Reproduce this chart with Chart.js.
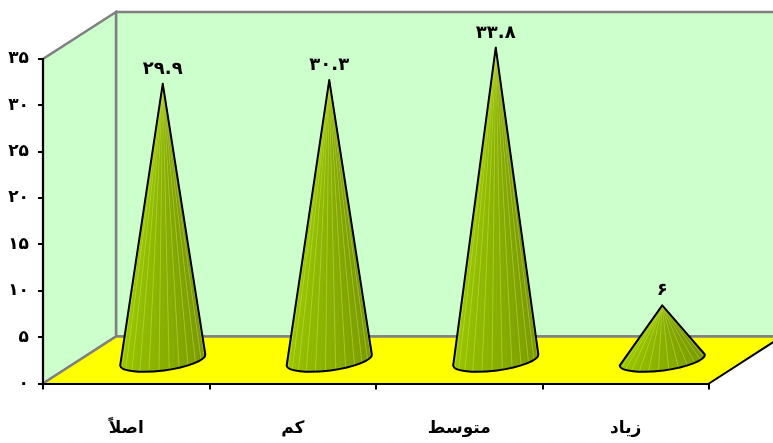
<!DOCTYPE html>
<html lang="fa">
<head>
<meta charset="utf-8">
<script src="https://cdn.jsdelivr.net/npm/chart.js@4/dist/chart.umd.min.js"></script>
<style>html,body{margin:0;padding:0;background:#fff}canvas{display:block}</style>
</head>
<body>
<canvas id="c" width="773" height="443"></canvas>
<script>
const categories = ['اصلاً', 'کم', 'متوسط', 'زیاد'];
const seriesValues = [29.9, 30.3, 33.8, 6];
const yTicks = [0, 5, 10, 15, 20, 25, 30, 35];

const FONT = '"DejaVu Sans"';
const DX = 73, DY = -47;
const persian = v => String(v).replace(/[0-9]/g, d => '۰۱۲۳۴۵۶۷۸۹'[d]);

function poly(ctx, pts, fill, stroke, lw) {
  ctx.beginPath();
  pts.forEach((p, i) => i ? ctx.lineTo(p[0], p[1]) : ctx.moveTo(p[0], p[1]));
  ctx.closePath();
  if (fill) { ctx.fillStyle = fill; ctx.fill(); }
  if (stroke) { ctx.strokeStyle = stroke; ctx.lineWidth = lw; ctx.stroke(); }
}

const walls = {
  id: 'walls',
  beforeDraw(chart) {
    const { ctx, chartArea: a, scales: { y } } = chart;
    const b = y.getPixelForValue(0), t = y.getPixelForValue(35);
    ctx.save();
    poly(ctx, [[a.left + DX, b + DY], [a.right + DX, b + DY], [a.right + DX, t + DY], [a.left + DX, t + DY]], '#ccffcc', '#808080', 2.5);
    poly(ctx, [[a.left, b], [a.left + DX, b + DY], [a.left + DX, t + DY], [a.left, t]], '#ccffcc', '#808080', 2.5);
    poly(ctx, [[a.left, b], [a.right, b], [a.right + DX, b + DY], [a.left + DX, b + DY]], '#ffff00');
    ctx.strokeStyle = '#808080'; ctx.lineWidth = 2.5;
    ctx.beginPath(); ctx.moveTo(a.left, b); ctx.lineTo(a.left + DX, b + DY); ctx.lineTo(a.right + DX, b + DY); ctx.stroke();
    ctx.strokeStyle = '#000'; ctx.lineWidth = 2;
    ctx.beginPath(); ctx.moveTo(a.right, b); ctx.lineTo(a.right + DX, b + DY); ctx.stroke();
    ctx.restore();
  }
};

function mix(t) {
  const l = [156, 204, 0], r = [116, 146, 0];
  return 'rgb(' + l.map((c, i) => Math.round(c + (r[i] - c) * t)).join(',') + ')';
}

const cones = {
  id: 'cones',
  afterDatasetsDraw(chart) {
    const { ctx } = chart;
    const meta = chart.getDatasetMeta(0);
    ctx.save();
    meta.data.forEach((el, i) => {
      const cx = el.x + DX / 2, baseY = el.base + DY / 2 + 1;
      const tipX = cx, tipY = el.y + DY / 2 + 1;
      const rx = el.width / 2, ry = 10.5, rot = -7.5 * Math.PI / 180;
      const pt = a => [
        cx + rx * Math.cos(a) * Math.cos(rot) - ry * Math.sin(a) * Math.sin(rot),
        baseY + rx * Math.cos(a) * Math.sin(rot) + ry * Math.sin(a) * Math.cos(rot)
      ];
      const N = 26;
      for (let k = 0; k < N; k++) {
        const a0 = Math.PI - Math.PI * k / N, a1 = Math.PI - Math.PI * (k + 1) / N;
        const p0 = pt(a0), p1 = pt(a1);
        poly(ctx, [[tipX, tipY], p0, p1], mix((k + .5) / N), mix((k + .5) / N), 0.6);
      }
      ctx.lineWidth = 0.8;
      ctx.strokeStyle = 'rgba(215,235,90,0.5)';
      for (let k = 2; k < N; k += 2) {
        const p = pt(Math.PI - Math.PI * k / N);
        ctx.beginPath(); ctx.moveTo(tipX, tipY); ctx.lineTo(p[0], p[1]); ctx.stroke();
      }
      const L = pt(Math.PI);
      ctx.beginPath();
      ctx.moveTo(tipX, tipY); ctx.lineTo(L[0], L[1]);
      ctx.ellipse(cx, baseY, rx, ry, rot, Math.PI, 0, true);
      ctx.closePath();
      ctx.strokeStyle = '#000'; ctx.lineWidth = 2; ctx.lineJoin = 'round'; ctx.stroke();
      ctx.fillStyle = '#000';
      ctx.font = 'bold 18px ' + FONT;
      ctx.letterSpacing = '3px';
      ctx.textAlign = 'center'; ctx.textBaseline = 'alphabetic';
      ctx.fillText(persian(seriesValues[i]), tipX, tipY - 10);
      ctx.letterSpacing = '0px';
    });
    ctx.restore();
  }
};

new Chart(document.getElementById('c'), {
  type: 'bar',
  data: { labels: categories, datasets: [{ data: seriesValues, backgroundColor: 'transparent', borderWidth: 0, barPercentage: 0.516, categoryPercentage: 1 }] },
  plugins: [walls, cones],
  options: {
    responsive: false, animation: false,
    layout: { padding: { top: 59, right: 64, left: 0, bottom: 0 } },
    plugins: { legend: { display: false }, title: { display: false }, tooltip: { enabled: false } },
    scales: {
      x: {
        afterFit(s) { s.height = 59.5; },
        grid: { drawOnChartArea: false, drawTicks: true, tickLength: 6, color: '#000', lineWidth: 2 },
        border: { color: '#000', width: 2 },
        ticks: { color: '#000', font: { family: FONT, weight: 'bold', size: 17 }, padding: 29, maxRotation: 0, autoSkip: false }
      },
      y: {
        min: 0, max: 35,
        afterFit(s) { s.width = 43; },
        afterBuildTicks(s) { s.ticks = yTicks.map(v => ({ value: v })); },
        grid: { drawOnChartArea: false, drawTicks: true, tickLength: 5, color: '#000', lineWidth: 2 },
        border: { color: '#000', width: 2 },
        ticks: { color: '#000', font: { family: FONT, weight: 'bold', size: 17 }, padding: 9, callback: v => persian(v) }
      }
    }
  }
});
</script>
</body>
</html>
